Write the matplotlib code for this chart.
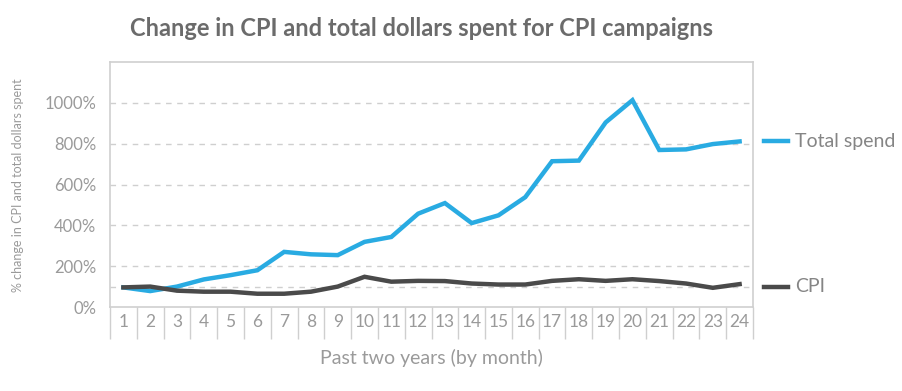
import matplotlib
matplotlib.use("Agg")
import matplotlib.pyplot as plt
import numpy as np

months = list(range(1, 25))
total_spend = [96, 78, 100, 135, 156, 180, 270, 258, 254, 319, 343, 457,
               509, 411, 449, 538, 714, 717, 904, 1013, 769, 772, 798, 811]
cpi = [96, 100, 80, 75, 75, 65, 65, 75, 100, 148, 124, 128,
       127, 115, 110, 110, 128, 136, 128, 136, 127, 115, 94, 112]
yticks = [0, 200, 400, 600, 800, 1000]

plt.rcParams['font.family'] = ['Lato', 'DejaVu Sans']
BLUE = '#29abe2'
DARK = '#4a4a4a'
TXT = '#9a9a9a'
GRID = '#cfcfcf'

fig = plt.figure(figsize=(9.02, 3.91), dpi=100)
ax = fig.add_axes([110/902, 1-307/391, (753-110)/902, (307-62)/391])

for v in yticks[1:]:
    ax.axhline(v, color=GRID, lw=1, ls=(0, (4, 4)), zorder=1)
ax.axhline(100, color=GRID, lw=1, ls=(0, (4, 4)), zorder=1)

ax.plot(months, total_spend, color=BLUE, lw=3.2, zorder=3, solid_joinstyle='miter')
ax.plot(months, cpi, color=DARK, lw=3.2, zorder=3, solid_joinstyle='miter')

ax.set_xlim(0.5, 24.5)
ax.set_ylim(0, 1200)
ax.set_yticks(yticks)
ax.set_yticklabels([f"{v}%" for v in yticks])
ax.set_xticks(months)
ax.set_xticklabels([str(m) for m in months])
ax.set_xticks(np.arange(0.5, 25, 1), minor=True)
ax.tick_params(axis='x', which='major', length=0, pad=5, labelsize=12.5, labelcolor=TXT)
ax.tick_params(axis='x', which='minor', length=23, width=1, color=GRID, direction='out')
ax.tick_params(axis='y', length=0, pad=10, labelsize=12, labelcolor=TXT)
for s in ax.spines.values():
    s.set_color(GRID)
    s.set_linewidth(1.2)

ax.set_xlabel("Past two years (by month)", fontsize=14, color=TXT, labelpad=4)
fig.text(18/902, 1-185/391, "% change in CPI and total dollars spent", rotation=90,
         fontsize=9, color=TXT, ha='center', va='center')

fig.text(421/902, 1-28/391, "Change in CPI and total dollars spent for CPI campaigns",
         fontsize=17, fontweight='bold', color='#6b6b6b', ha='center', va='center')

# legend-like labels
for y, lab, col in [(141, "Total spend", BLUE), (287, "CPI", DARK)]:
    fig.add_artist(plt.Line2D([764/902, 788/902], [1-y/391, 1-y/391], color=col, lw=3.2,
                              transform=fig.transFigure))
    fig.text(795/902, 1-y/391, lab, fontsize=14, color='#858585', ha='left', va='center')

fig.savefig("out.png", dpi=100, facecolor='white')
